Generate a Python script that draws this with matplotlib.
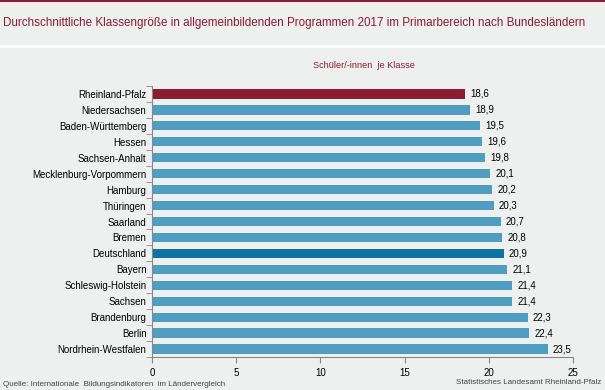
import matplotlib
matplotlib.use("Agg")
import matplotlib.pyplot as plt
from matplotlib.patches import Rectangle

categories = ["Rheinland-Pfalz", "Niedersachsen", "Baden-Württemberg", "Hessen",
              "Sachsen-Anhalt", "Mecklenburg-Vorpommern", "Hamburg", "Thüringen",
              "Saarland", "Bremen", "Deutschland", "Bayern", "Schleswig-Holstein",
              "Sachsen", "Brandenburg", "Berlin", "Nordrhein-Westfalen"]
values = [18.6, 18.9, 19.5, 19.6, 19.8, 20.1, 20.2, 20.3, 20.7, 20.8, 20.9,
          21.1, 21.4, 21.4, 22.3, 22.4, 23.5]
xticks = [0, 5, 10, 15, 20, 25]

bg = "#EEEFEF"
red = "#8B1C32"
blue = "#4F9EC2"
dblue = "#0E73A2"

plt.rcParams['font.family'] = ['Liberation Sans', 'DejaVu Sans']

fig = plt.figure(figsize=(6.05, 3.9), dpi=100)
fig.patch.set_facecolor(bg)
W, H = 605, 390

# top line and white separator
fig.add_artist(Rectangle((0, 1 - 2 / H), 1, 2 / H, transform=fig.transFigure,
                         facecolor=red, edgecolor="none"))
fig.add_artist(Rectangle((0, 1 - 48 / H), 1, 3 / H, transform=fig.transFigure,
                         facecolor="white", edgecolor="none"))

fig.text(3 / W, 1 - 23 / H, "Durchschnittliche Klassengröße in allgemeinbildenden Programmen 2017 im Primarbereich nach Bundesländern",
         color=red, fontsize=8.35, va="center", ha="left")
fig.text(364 / W, 1 - 66 / H, "Schüler/-innen  je Klasse", color=red, fontsize=6.6,
         va="center", ha="center")

ax = fig.add_axes([152 / W, 1 - 357 / H, (573 - 152) / W, (357 - 86) / H])
ax.set_facecolor(bg)
colors = []
for c in categories:
    if c == "Rheinland-Pfalz":
        colors.append(red)
    elif c == "Deutschland":
        colors.append(dblue)
    else:
        colors.append(blue)
y = list(range(len(categories)))
ax.barh(y, values, height=0.58, color=colors)
for yi, v in zip(y, values):
    ax.text(v + 0.3, yi, f"{v:.1f}".replace(".", ","), va="center", ha="left",
            fontsize=7, color="black")
ax.set_ylim(len(categories) - 0.5, -0.5)
ax.set_xlim(0, 25)
ax.set_xticks(xticks)
ax.set_xticklabels([str(t) for t in xticks], fontsize=7)
ax.set_yticks(y)
ax.set_yticklabels(categories, fontsize=7)
ax.tick_params(axis="y", length=0, pad=4)
ax.set_yticks([i - 0.5 for i in range(len(categories) + 1)], minor=True)
ax.tick_params(axis="y", which="minor", length=4, color="#888888")
ax.tick_params(axis="x", length=4, color="#888888", pad=4)
for s in ["top", "right"]:
    ax.spines[s].set_visible(False)
for s in ["left", "bottom"]:
    ax.spines[s].set_color("#888888")
    ax.spines[s].set_linewidth(0.8)

fig.text(3 / W, 1 - 385 / H, "Quelle: Internationale  Bildungsindikatoren  im Ländervergleich",
         fontsize=5.8, color="#444444", va="center", ha="left")
fig.text(601 / W, 1 - 383 / H, "Statistisches Landesamt Rheinland-Pfalz",
         fontsize=5.8, color="#444444", va="center", ha="right")

fig.savefig("out.png", dpi=100, facecolor=bg)
